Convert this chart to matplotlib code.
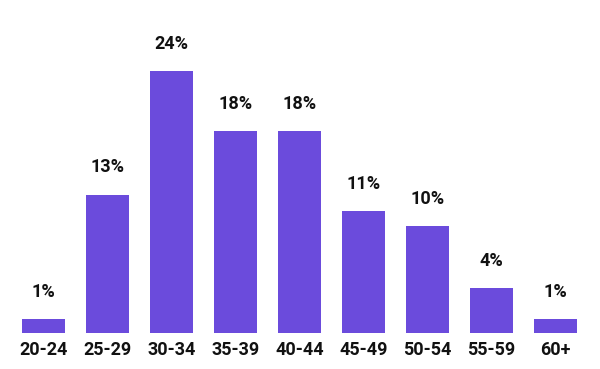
import matplotlib
matplotlib.use("Agg")
import matplotlib.pyplot as plt

ages = ["20-24", "25-29", "30-34", "35-39", "40-44", "45-49", "50-54", "55-59", "60+"]
shares = [1.3, 12.7, 24.0, 18.5, 18.5, 11.2, 9.8, 4.1, 1.3]
labels = ["1%", "13%", "24%", "18%", "18%", "11%", "10%", "4%", "1%"]

plt.rcParams["font.family"] = ["Roboto", "DejaVu Sans"]

fig = plt.figure(figsize=(6, 3.69), dpi=100)
ax = fig.add_axes([0.019, 0.0976, 0.96, 0.886])

x = range(len(ages))
bars = ax.bar(x, shares, width=0.67, color="#6b4bdc")
for b, lab in zip(bars, labels):
    ax.text(b.get_x() + b.get_width() / 2, b.get_height() + 2.5, lab,
            ha="center", va="center", fontsize=13, fontweight="bold", color="#111111")

ax.set_xlim(-0.5, 8.5)
ax.set_ylim(0, 30)
ax.set_xticks(list(x))
ax.set_xticklabels(ages, fontsize=13, fontweight="bold", color="#111111")
ax.tick_params(axis="x", length=0, pad=6)
ax.set_yticks([])
for s in ax.spines.values():
    s.set_visible(False)

fig.savefig("out.png", dpi=100)
